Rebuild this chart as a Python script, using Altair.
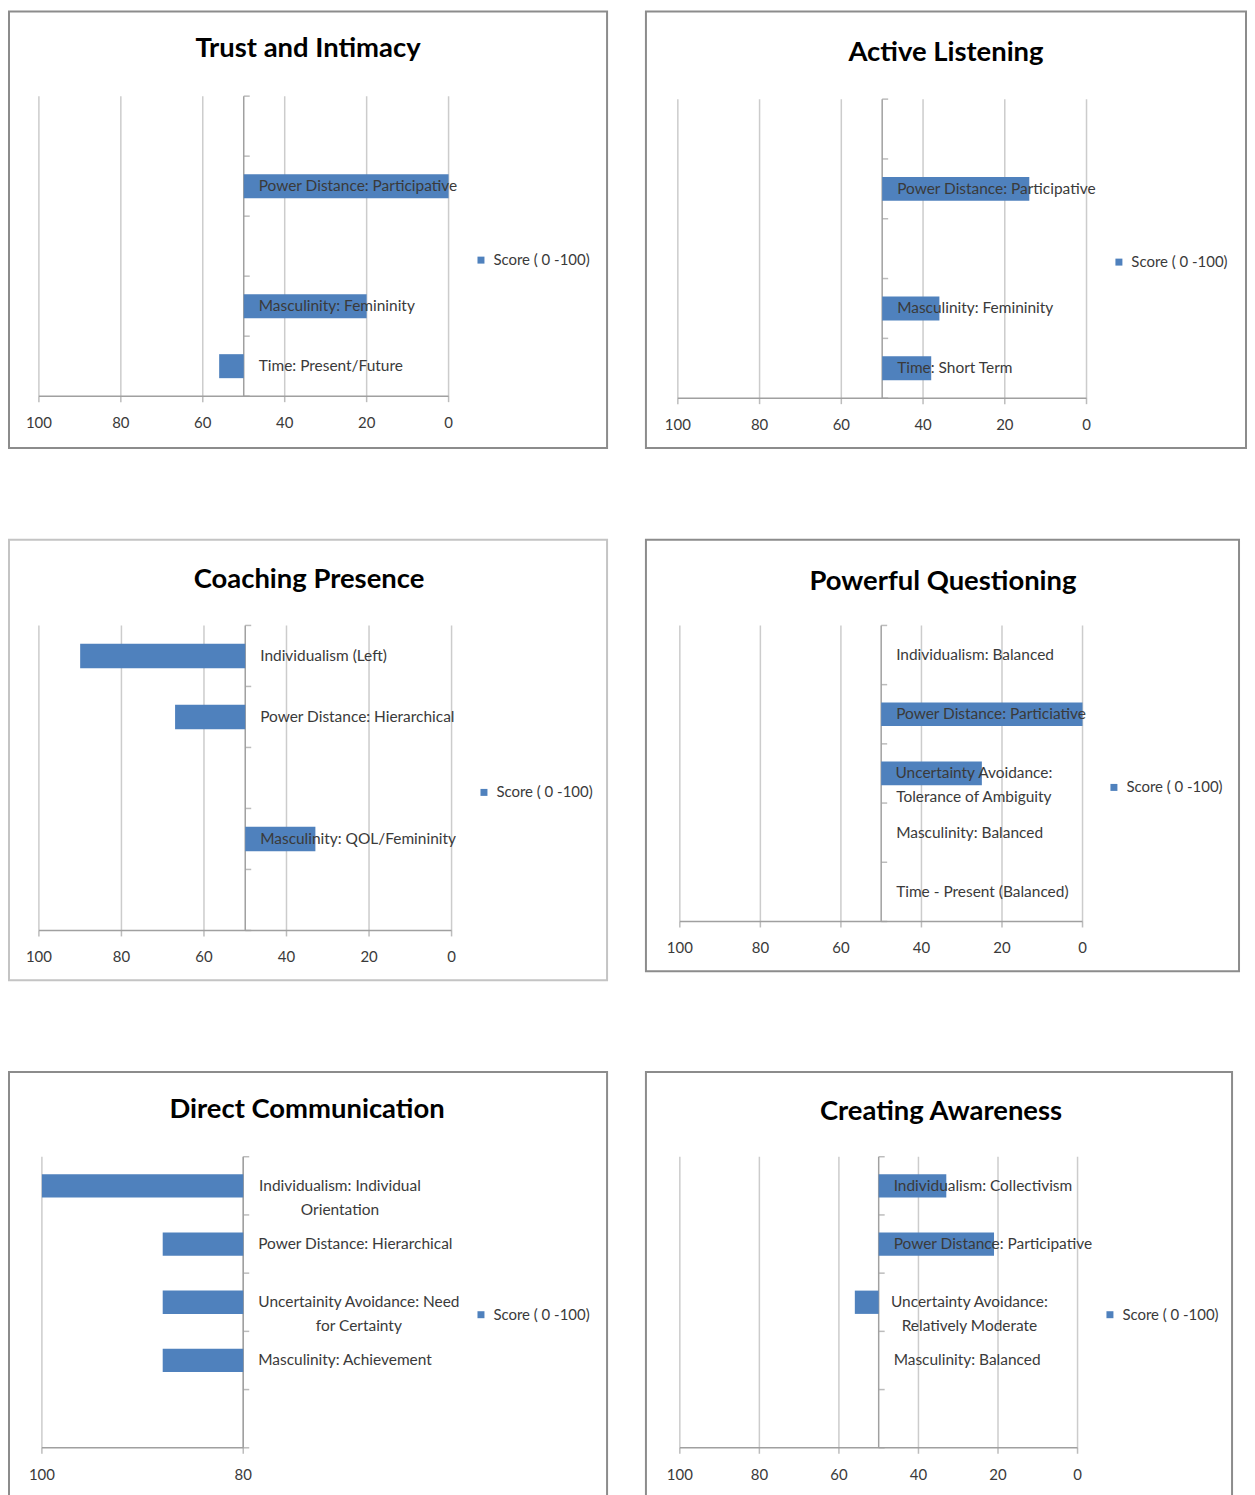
import altair as alt
import pandas as pd

BLUE = "#4F81BD"
FONT = "Lato"
SERIES = "Score ( 0 -100)"
TEXT_C = "#3a3a3a"
AXIS_C = "#a0a0a0"
GRID_C = "#cccccc"
FRAME_C = "#8c8c8c"

TITLES = [
    "Trust and Intimacy",
    "Active Listening",
    "Coaching Presence",
    "Powerful Questioning",
    "Direct Communication",
    "Creating Awareness",
]

# Trust and Intimacy
TI_LABELS = ["", "Power Distance: Participative", "", "Masculinity: Femininity", "Time: Present/Future"]
TI_SCORES = [None, 0, None, 20, 56]
# Active Listening
AL_LABELS = ["", "Power Distance: Participative", "", "Masculinity: Femininity", "Time: Short Term"]
AL_SCORES = [None, 14, None, 36, 38]
# Coaching Presence
CP_LABELS = ["Individualism (Left)", "Power Distance: Hierarchical", "", "Masculinity: QOL/Femininity", ""]
CP_SCORES = [90, 67, None, 33, None]
# Powerful Questioning
PQ_LABELS = ["Individualism: Balanced", "Power Distance: Particiative",
             "Uncertainty Avoidance:\nTolerance of Ambiguity", "Masculinity: Balanced",
             "Time - Present (Balanced)"]
PQ_SCORES = [50, 0, 25, 50, 50]
# Direct Communication
DC_LABELS = ["Individualism: Individual\nOrientation", "Power Distance: Hierarchical",
             "Uncertainity Avoidance: Need\nfor Certainty", "Masculinity:  Achievement", ""]
DC_SCORES = [100, 88, 88, 88, None]
# Creating Awareness
CA_LABELS = ["Individualism: Collectivism", "Power Distance: Participative",
             "Uncertainty Avoidance:\nRelatively Moderate", "Masculinity: Balanced", ""]
CA_SCORES = [33, 21, 56, 50, None]

TICKS_FULL = [100, 80, 60, 40, 20, 0]
TICKS_DC = [100, 80]

# (title, labels, scores, axis crossing value, tick values, axis minimum)
PANELS = [
    (TITLES[0], TI_LABELS, TI_SCORES, 50, TICKS_FULL, 0),
    (TITLES[1], AL_LABELS, AL_SCORES, 50, TICKS_FULL, 0),
    (TITLES[2], CP_LABELS, CP_SCORES, 50, TICKS_FULL, 0),
    (TITLES[3], PQ_LABELS, PQ_SCORES, 50, TICKS_FULL, 0),
    (TITLES[4], DC_LABELS, DC_SCORES, 80, TICKS_DC, 80),
    (TITLES[5], CA_LABELS, CA_SCORES, 50, TICKS_FULL, 0),
]

# ---- layout (pixels, relative to each panel's frame) ----
LAYOUT = [
    dict(w=600, h=438, x=(30, 441), y=(85, 386), legend=(466, 250), title=(300, 38), frame=FRAME_C),
    dict(w=602, h=438, x=(32, 442), y=(88, 388), legend=(467, 252), title=(301, 42), frame=FRAME_C),
    dict(w=600, h=442, x=(30, 444), y=(86, 392), legend=(469, 254), title=(301, 40), frame="#c4c4c4"),
    dict(w=595, h=433, x=(34, 438), y=(86, 383), legend=(462, 249), title=(298, 42), frame=FRAME_C),
    dict(w=600, h=440, x=(33, 235), y=(85, 377), legend=(466, 244), title=(299, 38), frame=FRAME_C),
    dict(w=588, h=440, x=(34, 433), y=(85, 377), legend=(458, 244), title=(296, 40), frame=FRAME_C),
]
# horizontal offset of centred two-line labels from the category axis
CENTER_DX = {(3, 2): 93, (4, 0): 97, (4, 2): 116, (5, 2): 91}
LABEL_DX = 15
LABEL_SIZE = 15.5
TITLE_SIZE = 27.5


def make_panel(k):
    title, labels, scores, base, ticks, dmin = PANELS[k]
    L = LAYOUT[k]
    n = len(labels)
    W, H = L["w"], L["h"]
    x100, xmin = L["x"]
    ytop, ybot = L["y"]

    df = pd.DataFrame({"pos": list(range(n)), "label": labels,
                       "score": [float("nan") if s is None else s for s in scores]})
    df["series"] = SERIES
    tick_df = pd.DataFrame({"g": ticks})
    bound_df = pd.DataFrame({"b": list(range(n + 1))})
    one = pd.DataFrame({"o": [0]})

    xs = alt.Scale(domain=[100, dmin], range=[x100, xmin], nice=False, zero=False)
    ys = alt.Scale(domain=[0, n], range=[ytop, ybot], nice=False, zero=False)

    def X(field):
        return alt.X(field, scale=xs, axis=None)

    def XD(v):
        return alt.XDatum(datum=v, scale=xs, axis=None)

    def Y(field):
        return alt.Y(field, scale=ys, axis=None)

    def YD(v):
        return alt.YDatum(datum=v, scale=ys, axis=None)

    # vertical gridlines
    grid = alt.Chart(tick_df).mark_rule(color=GRID_C, strokeWidth=1.5).encode(
        x=X("g:Q"), y=YD(0), y2=alt.datum(n),
    )
    # horizontal value axis: line, ticks, labels
    x_line = alt.Chart(one).mark_rule(color=AXIS_C, strokeWidth=1.5).encode(
        x=XD(100), x2=alt.datum(dmin), y=YD(n),
    )
    x_ticks = alt.Chart(tick_df).mark_tick(
        orient="vertical", size=6, thickness=1.5, color=AXIS_C, yOffset=3
    ).encode(x=X("g:Q"), y=YD(n))
    x_labels = alt.Chart(tick_df).mark_text(
        font=FONT, fontSize=15, color=TEXT_C, baseline="middle", align="center", dy=27
    ).encode(x=X("g:Q"), y=YD(n), text=alt.Text("g:Q", format="d"))
    # category axis at the crossing value
    c_line = alt.Chart(one).mark_rule(color=AXIS_C, strokeWidth=1.5).encode(
        x=XD(base), y=YD(0), y2=alt.datum(n),
    )
    c_ticks = alt.Chart(bound_df).mark_tick(
        orient="horizontal", size=6, thickness=1.5, color=AXIS_C, xOffset=3
    ).encode(x=XD(base), y=Y("b:Q"))

    bars = alt.Chart(df).transform_filter("isValid(datum.score)").transform_calculate(
        y0="datum.pos + 0.3", y1="datum.pos + 0.7"
    ).mark_bar().encode(
        x=X("score:Q"),
        x2=alt.datum(base),
        y=Y("y0:Q"),
        y2="y1:Q",
        color=alt.Color("series:N", scale=alt.Scale(domain=[SERIES], range=[BLUE]),
                        legend=alt.Legend(title=None, orient="none",
                                          legendX=L["legend"][0], legendY=L["legend"][1] - 8,
                                          symbolType="square", symbolSize=49,
                                          symbolStrokeWidth=0, labelFont=FONT,
                                          labelFontSize=15, labelColor=TEXT_C,
                                          padding=0, labelOffset=5)),
    )

    layers = [grid, x_line, x_ticks, x_labels, c_line, c_ticks, bars]

    left_idx = [i for i, l in enumerate(labels) if l and (k, i) not in CENTER_DX]
    txt_common = dict(baseline="middle", font=FONT, fontSize=LABEL_SIZE, color=TEXT_C,
                      lineHeight=24, lineBreak="\n")
    if left_idx:
        layers.append(
            alt.Chart(df).transform_filter(
                alt.FieldOneOfPredicate(field="pos", oneOf=left_idx)
            ).transform_calculate(yc="datum.pos + 0.5").mark_text(
                align="left", dx=LABEL_DX, **txt_common
            ).encode(x=XD(base), y=Y("yc:Q"), text="label:N")
        )
    for (pk, i), dx in CENTER_DX.items():
        if pk != k:
            continue
        layers.append(
            alt.Chart(df).transform_filter(
                alt.FieldEqualPredicate(field="pos", equal=i)
            ).transform_calculate(yc="datum.pos + 0.5").mark_text(
                align="center", dx=dx, **txt_common
            ).encode(x=XD(base), y=Y("yc:Q"), text="label:N")
        )

    ttl = alt.Chart(pd.DataFrame({"t": [title]})).mark_text(
        font=FONT, fontSize=TITLE_SIZE, fontWeight="bold", color="#000000",
        align="center", baseline="middle"
    ).encode(text="t:N", x=alt.value(L["title"][0]), y=alt.value(L["title"][1]))
    layers.append(ttl)

    return alt.layer(*layers).properties(
        width=W, height=H,
        view=alt.ViewBackground(stroke=L["frame"], strokeWidth=2, fill="white"),
    )


rows = [
    alt.hconcat(make_panel(0), make_panel(1), spacing=37).resolve_scale(color="independent").resolve_legend(color="independent"),
    alt.hconcat(make_panel(2), make_panel(3), spacing=37).resolve_scale(color="independent").resolve_legend(color="independent"),
    alt.hconcat(make_panel(4), make_panel(5), spacing=37).resolve_scale(color="independent").resolve_legend(color="independent"),
]
chart = alt.vconcat(*rows, spacing=90).resolve_scale(
    color="independent"
).resolve_legend(color="independent").properties(
    padding={"left": 0, "top": 0, "right": 0, "bottom": 0},
    background="white",
)

chart.save("out.html", embed_options={"renderer": "svg", "actions": False})
